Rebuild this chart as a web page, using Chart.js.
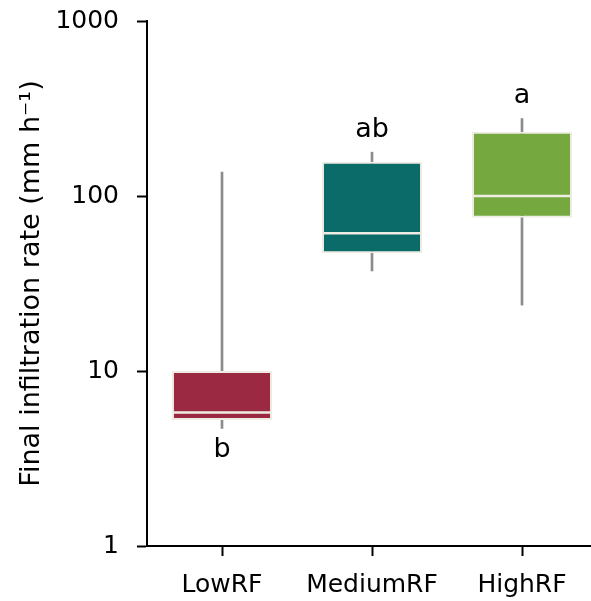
<!DOCTYPE html>
<html>
<head>
<meta charset="utf-8">
<script src="https://cdn.jsdelivr.net/npm/chart.js@4/dist/chart.umd.min.js"></script>
<style>
  html, body { margin: 0; padding: 0; background: #fff; overflow: hidden; }
  #wrap { width: 600px; height: 601px; }
</style>
</head>
<body>
<div id="wrap"><canvas id="c" width="600" height="601"></canvas></div>
<script>
// data
const groups = ['LowRF', 'MediumRF', 'HighRF'];
const whiskerLow = [4.7, 37.3, 23.8];
const q1 = [5.25, 47.1, 75.2];
const median = [5.8, 61.2, 100];
const q3 = [10, 157, 233];
const whiskerHigh = [137, 178, 277];
const letters = ['b', 'ab', 'a'];
const letterAbove = [false, true, true];
const yTicks = [1, 10, 100, 1000];
const boxColors = ['#9c2942', '#0b6b68', '#75a83f'];

const FONT = 'DejaVu Sans';

// medians + significance letters on top of the boxes
const boxExtras = {
  id: 'boxExtras',
  afterDatasetsDraw(chart) {
    const ctx = chart.ctx;
    const y = chart.scales.y;
    const boxes = chart.getDatasetMeta(1).data;
    ctx.save();
    boxes.forEach((bar, i) => {
      const py = y.getPixelForValue(median[i]);
      ctx.strokeStyle = '#efede3';
      ctx.lineWidth = 2.5;
      ctx.beginPath();
      ctx.moveTo(bar.x - bar.width / 2 + 1, py);
      ctx.lineTo(bar.x + bar.width / 2 - 1, py);
      ctx.stroke();

      ctx.fillStyle = '#000';
      ctx.font = '27px "' + FONT + '"';
      ctx.textAlign = 'center';
      if (letterAbove[i]) {
        ctx.textBaseline = 'bottom';
        ctx.fillText(letters[i], bar.x, y.getPixelForValue(whiskerHigh[i]) - 9);
      } else {
        ctx.textBaseline = 'top';
        ctx.fillText(letters[i], bar.x, y.getPixelForValue(whiskerLow[i]) + 8);
      }
    });
    ctx.restore();
  }
};

new Chart(document.getElementById('c'), {
  type: 'bar',
  data: {
    labels: groups,
    datasets: [
      {
        label: 'whisker',
        data: groups.map((g, i) => [whiskerLow[i], whiskerHigh[i]]),
        backgroundColor: '#8c8c8c',
        barThickness: 2,
        grouped: false,
        order: 1
      },
      {
        label: 'box',
        data: groups.map((g, i) => [q1[i], q3[i]]),
        backgroundColor: boxColors,
        borderColor: '#efede3',
        borderWidth: 2,
        borderSkipped: false,
        categoryPercentage: 1,
        barPercentage: 0.667,
        grouped: false,
        order: 0
      }
    ]
  },
  options: {
    responsive: false,
    animation: false,
    layout: { padding: { top: 21, right: 3, left: 0, bottom: 0 } },
    plugins: { legend: { display: false }, tooltip: { enabled: false } },
    scales: {
      x: {
        offset: true,
        grid: { display: true, drawOnChartArea: false, drawTicks: true, tickLength: 10, tickWidth: 2, tickColor: '#000', offset: false },
        border: { display: true, color: '#000', width: 2 },
        ticks: { color: '#000', font: { family: FONT, size: 25 }, padding: 14 },
        afterFit(s) { s.height = 55; s.paddingLeft = 0; s.paddingRight = 0; }
      },
      y: {
        type: 'logarithmic',
        min: 1,
        max: 1000,
        afterBuildTicks(s) { s.ticks = yTicks.map(v => ({ value: v })); },
        grid: { display: true, drawOnChartArea: false, drawTicks: true, tickLength: 10, tickWidth: 2, tickColor: '#000' },
        border: { display: true, color: '#000', width: 2 },
        ticks: {
          color: '#000',
          font: { family: FONT, size: 25 },
          padding: 18,
          callback: v => String(v)
        },
        title: {
          display: true,
          text: 'Final infiltration rate (mm h\u207B\u00B9)',
          color: '#000',
          font: { family: FONT, size: 27 },
          padding: { top: 16, bottom: 0 }
        },
        afterFit(s) { s.width = 147; s.paddingTop = 0; s.paddingBottom = 0; }
      }
    }
  },
  plugins: [boxExtras]
});
</script>
</body>
</html>
